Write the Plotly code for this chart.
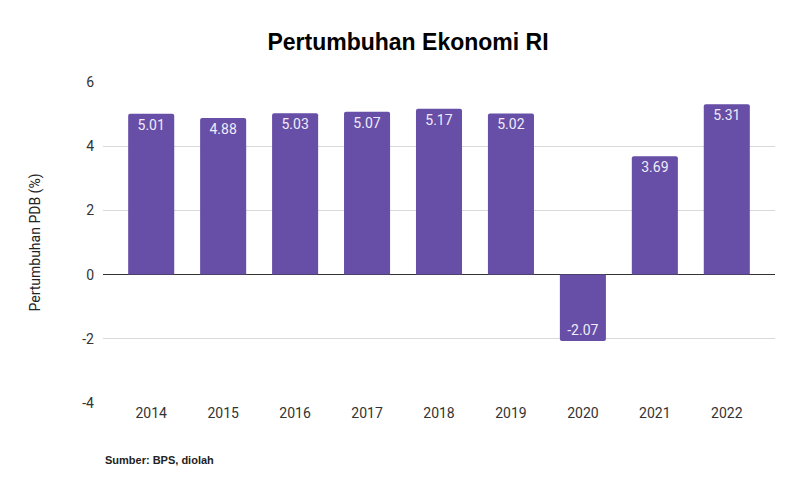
import plotly.graph_objects as go

years = ['2014', '2015', '2016', '2017', '2018', '2019', '2020', '2021', '2022']
growth = [5.01, 4.88, 5.03, 5.07, 5.17, 5.02, -2.07, 3.69, 5.31]
y_ticks = [-4, -2, 0, 2, 4, 6]
y_ticktext = ['-4', '-2', '0', '2', '4', '6']

fig = go.Figure()
fig.add_trace(go.Bar(
    x=years, y=growth,
    marker=dict(color='#674ea7', line=dict(width=0), cornerradius=2),
    width=0.64,
    text=[f'{v:.2f}' for v in growth],
    textposition='inside',
    insidetextanchor='end',
    textangle=0,
    textfont=dict(family='Roboto', size=14, color='#f0ecf8'),
    cliponaxis=False,
))

# the page has an 8px body margin, so margins are shifted to compensate
fig.update_layout(
    width=800, height=495,
    paper_bgcolor='white', plot_bgcolor='white',
    margin=dict(l=95, r=33, t=74, b=100),
    showlegend=False,
    title=dict(text='<b>Pertumbuhan Ekonomi RI</b>', x=0.5, xanchor='center',
               y=0.931, yanchor='middle',
               font=dict(family='Liberation Sans, Arial', size=23, color='black')),
    xaxis=dict(range=[-0.67, 8.67], showgrid=False, showline=False, ticks='',
               tickfont=dict(family='Roboto', size=14, color='#333333')),
    yaxis=dict(range=[-4, 6], tickvals=y_ticks, ticktext=y_ticktext, showgrid=True,
               gridcolor='#d9d9d9', gridwidth=1, zeroline=True,
               zerolinecolor='#333333', zerolinewidth=1,
               ticks='', ticklabelstandoff=8,
               tickfont=dict(family='Roboto', size=14, color='#333333'),
               title=dict(text='Pertumbuhan PDB (%)', standoff=38,
                          font=dict(family='Roboto', size=14, color='#222222'))),
    bargap=0.36,
)

fig.add_annotation(text='<b>Sumber: BPS, diolah</b>', xref='paper', yref='paper',
                   x=0, y=-0.178, xanchor='left', yanchor='middle', showarrow=False,
                   font=dict(family='Liberation Sans, Arial', size=11, color='#222222'))

fig.write_html('out.html')
